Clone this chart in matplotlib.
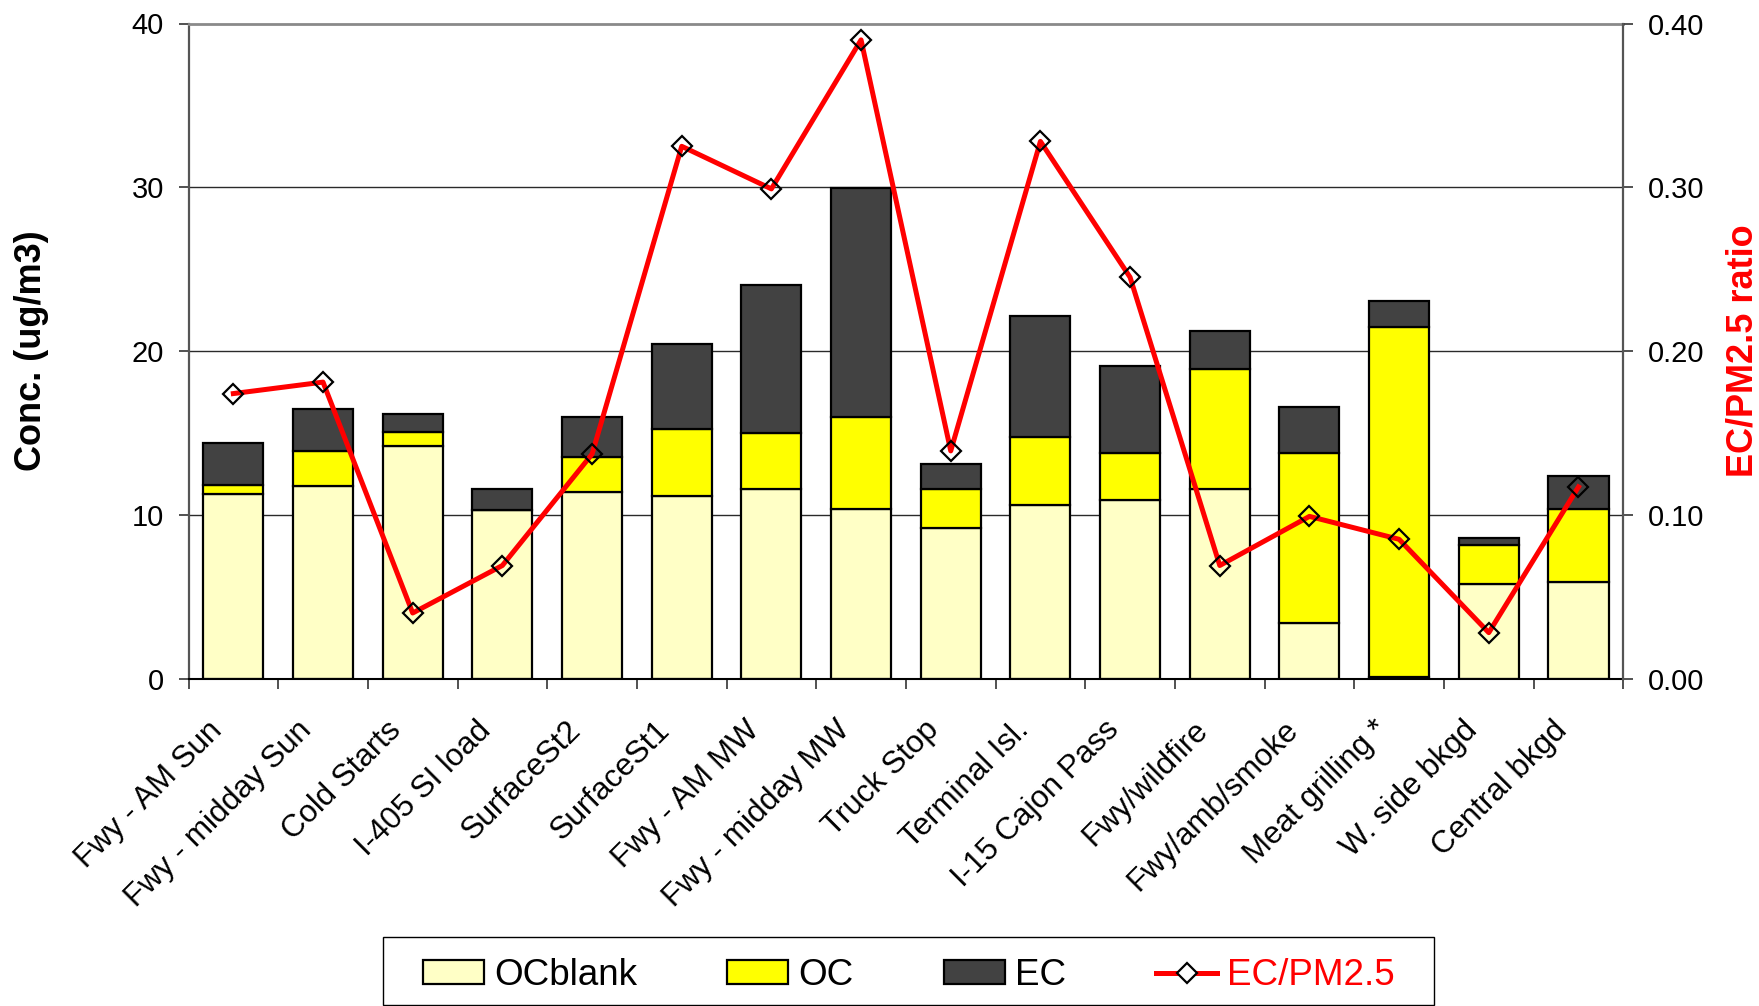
import matplotlib
matplotlib.use("Agg")
import matplotlib.pyplot as plt
from matplotlib.patches import Patch, Rectangle
from matplotlib.lines import Line2D
from matplotlib.transforms import ScaledTranslation
import numpy as np

plt.rcParams['font.family'] = ['Liberation Sans', 'DejaVu Sans']

categories = ["Fwy - AM Sun", "Fwy - midday Sun", "Cold Starts", "I-405 SI load",
              "SurfaceSt2", "SurfaceSt1", "Fwy - AM MW", "Fwy - midday MW",
              "Truck Stop", "Terminal Isl.", "I-15 Cajon Pass", "Fwy/wildfire",
              "Fwy/amb/smoke", "Meat grilling *", "W. side bkgd", "Central bkgd"]

oc_blank = [11.25, 11.78, 14.17, 10.27, 11.37, 11.12, 11.55, 10.35,
            9.21, 10.61, 10.92, 11.55, 3.39, 0.10, 5.76, 5.92]
oc = [0.55, 2.09, 0.88, 0.00, 2.13, 4.11, 3.42, 5.60,
      2.36, 4.14, 2.88, 7.33, 10.41, 21.39, 2.38, 4.43]
ec = [2.56, 2.61, 1.08, 1.28, 2.47, 5.18, 9.06, 14.01,
      1.51, 7.37, 5.26, 2.34, 2.81, 1.57, 0.43, 2.04]
ec_pm25 = [0.174, 0.181, 0.040, 0.069, 0.137, 0.325, 0.299, 0.390,
           0.139, 0.328, 0.245, 0.069, 0.099, 0.085, 0.028, 0.117]

C_BLANK = "#FFFFC6"
C_OC = "#FFFF00"
C_EC = "#424242"
C_RATIO = "#FF0000"

W, H = 1759, 1006
fig = plt.figure(figsize=(W / 100, H / 100), dpi=100)
ax = fig.add_axes([188.5 / W, 1 - 678.5 / H, (1623.3 - 188.5) / W, (678.5 - 23.5) / H])

x = np.arange(len(categories))
bw = 0.67
bot1 = np.array(oc_blank)
bot2 = bot1 + np.array(oc)
ax.bar(x, oc_blank, bw, color=C_BLANK, edgecolor="black", linewidth=1.6, zorder=2)
ax.bar(x, oc, bw, bottom=bot1, color=C_OC, edgecolor="black", linewidth=1.6, zorder=2)
ax.bar(x, ec, bw, bottom=bot2, color=C_EC, edgecolor="black", linewidth=1.6, zorder=2)

ax.set_xlim(-0.5, len(categories) - 0.5)
ax.set_ylim(0, 40)
ax.set_yticks([0, 10, 20, 30, 40])
ax.set_yticklabels(["0", "10", "20", "30", "40"])
ax.tick_params(axis="y", direction="out", length=7.2, width=1.2, pad=10.5,
               labelsize=21, color="#333333")
for yv in [10, 20, 30]:
    ax.axhline(yv, color="#2a2a2a", linewidth=1.0, zorder=1)

# category boundary ticks
ax.set_xticks(np.arange(-0.5, len(categories)), minor=True)
ax.tick_params(axis="x", which="minor", direction="out", length=7.2, width=1.2, color="#333333")
ax.set_xticks(x)
ax.set_xticklabels(categories, rotation=45, ha="right", va="center",
                   rotation_mode="anchor", fontsize=22.5)
ax.tick_params(axis="x", which="major", length=0, pad=34)
for lab in ax.get_xticklabels():
    lab.set_transform(lab.get_transform() + ScaledTranslation(-0.16, 0, fig.dpi_scale_trans))

ax.spines["top"].set_color("#8a8a8a")
ax.spines["top"].set_linewidth(2.0)
ax.spines["left"].set_color("#555555")
ax.spines["left"].set_linewidth(1.6)
ax.spines["bottom"].set_color("black")
ax.spines["bottom"].set_linewidth(1.5)
ax.spines["right"].set_visible(False)

ax2 = ax.twinx()
ax2.plot(x, ec_pm25, color=C_RATIO, linewidth=3.6, marker="D", markersize=10.5,
         markerfacecolor="none", markeredgecolor="black", markeredgewidth=1.6,
         zorder=5, solid_joinstyle="round")
ax2.set_ylim(0, 0.4)
ax2.set_yticks([0, 0.1, 0.2, 0.3, 0.4])
ax2.set_yticklabels(["0.00", "0.10", "0.20", "0.30", "0.40"])
ax2.tick_params(axis="y", direction="out", length=7.2, width=1.2, pad=10.5,
                labelsize=21, color="#333333")
ax2.spines["right"].set_color("#555555")
ax2.spines["right"].set_linewidth(1.6)
for s in ["top", "left", "bottom"]:
    ax2.spines[s].set_visible(False)

fig.text(32 / W, 1 - 351 / H, "Conc. (ug/m3)", rotation=90, ha="center", va="center",
         fontsize=26, fontweight="bold", color="black")
fig.text(1743 / W, 1 - 351 / H, "EC/PM2.5 ratio", rotation=90, ha="center", va="center",
         fontsize=26, fontweight="bold", color=C_RATIO)

handles = [
    Patch(facecolor=C_BLANK, edgecolor="black", linewidth=1.6),
    Patch(facecolor=C_OC, edgecolor="black", linewidth=1.6),
    Patch(facecolor=C_EC, edgecolor="black", linewidth=1.6),
    Line2D([], [], color=C_RATIO, linewidth=3.6, marker="D", markersize=10.5,
           markerfacecolor="white", markeredgecolor="black", markeredgewidth=1.6),
]
labels = ["OCblank", "OC", "EC", "EC/PM2.5"]
leg = fig.legend(handles, labels, loc="center", bbox_to_anchor=(909 / W, 1 - 975.5 / H),
                 ncol=4, frameon=False, fontsize=26.5, handlelength=1.65,
                 handleheight=0.62, handletextpad=0.28, columnspacing=2.45)
leg.get_texts()[3].set_color(C_RATIO)

fig.patches.append(Rectangle((383 / W, 1 - 1005 / H), (1434 - 383) / W, (1005 - 937) / H,
                             transform=fig.transFigure, fill=False, edgecolor="black",
                             linewidth=1.0))

fig.savefig("out.png", dpi=100)
